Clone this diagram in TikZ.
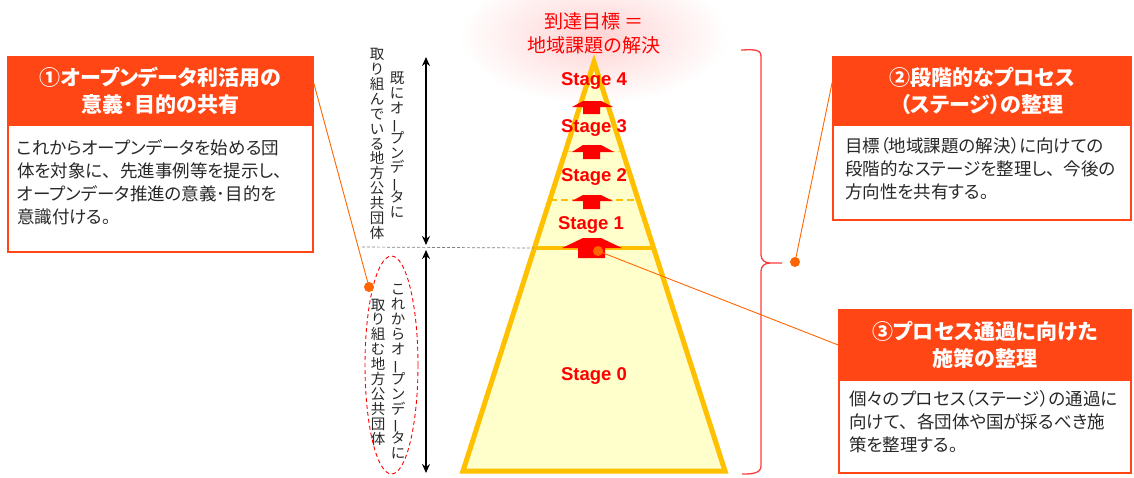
\documentclass[tikz,border=0pt]{standalone}
\usepackage{fontspec}
\usepackage{graphicx}
\setmainfont{Liberation Sans}
\newfontfamily\jp{Noto Sans CJK JP}
\newfontfamily\jpp{Noto Sans CJK JP}[RawFeature=+palt]
\usetikzlibrary{calc,arrows.meta}
\definecolor{hdr}{RGB}{255,70,20}
\definecolor{pyr}{RGB}{255,192,0}
\definecolor{pyrfill}{RGB}{255,255,204}
\definecolor{conn}{RGB}{255,102,0}
\definecolor{bracecol}{RGB}{255,60,60}
\definecolor{txt}{RGB}{40,40,40}
\definecolor{glow}{RGB}{255,210,210}
\definecolor{stagered}{RGB}{255,0,0}
\newcommand{\chouon}{\smash{\raisebox{-0.05em}{\rotatebox[origin=c]{90}{ー}}}}
\newcommand{\tten}{{\jp 、}}
\tikzset{
  hdrbox/.style={fill=hdr, draw=hdr, line width=1.5pt, text=white,
    font=\jpp\bfseries\fontsize{21}{27}\selectfont, align=center, inner sep=0pt},
  bodybox/.style={fill=white, draw=hdr, line width=1.5pt, inner sep=0pt},
  bodytext/.style={text=txt, font=\jpp\fontsize{17.5}{23}\selectfont, align=left,
    inner sep=0pt, anchor=north west},
  stagelbl/.style={text=stagered, font=\bfseries\fontsize{18.5}{20}\selectfont, inner sep=0pt},
  vcol/.style={text=txt, font=\jp\fontsize{14.5}{14.9}\selectfont, align=center, inner sep=0pt},
  dotnode/.style={circle, fill=conn, minimum size=10pt, inner sep=0pt},
  connline/.style={draw=conn, line width=0.9pt},
  dimarrow/.style={draw=black, line width=1.8pt,
    {Stealth[length=9pt,width=8pt]}-{Stealth[length=9pt,width=8pt]}},
  upblock/.style={fill=stagered, draw=none},
}
\begin{document}
\begin{tikzpicture}[x=1pt,y=-1pt]
\useasboundingbox (0,0) rectangle (1134,477);
\fill[white] (0,0) rectangle (1134,477);

% glow behind the goal text
\shade[inner color=glow, outer color=white] (594,36) ellipse [x radius=135, y radius=68];

% pyramid
\coordinate (P) at (594,62);
\coordinate (PL) at (463,471);
\coordinate (PR) at (725,471);
\fill[pyrfill] (P) -- (PL) -- (PR) -- cycle;
\coordinate (L0) at ($(P)!0.4548!(PL)$);
\coordinate (R0) at ($(P)!0.4548!(PR)$);
\coordinate (L1) at ($(P)!0.3374!(PL)$);
\coordinate (R1) at ($(P)!0.3374!(PR)$);
\coordinate (L2) at ($(P)!0.2176!(PL)$);
\coordinate (R2) at ($(P)!0.2176!(PR)$);
\draw[pyr!70, line width=0.8pt, dash pattern=on 10pt off 3pt] (L2) -- (R2);
\draw[pyr, line width=1.5pt, dash pattern=on 7pt off 4pt] (L1) -- (R1);
\draw[pyr, line width=4pt] (L0) -- (R0);
\draw[pyr, line width=5pt, line join=miter] (P) -- (PL) -- (PR) -- cycle;

% up arrows
\fill[upblock] (562,248) -- (583,238) -- (601,238) -- (622,248) -- (605,248) -- (605,258) -- (578,258) -- (578,248) -- cycle;
\fill[upblock] (572,201) -- (583,195) -- (601,195) -- (613,201) -- (600,201) -- (600,209) -- (583,209) -- (583,201) -- cycle;
\fill[upblock] (572,152) -- (583,145) -- (601,145) -- (614,152) -- (600,152) -- (600,159) -- (583,159) -- (583,152) -- cycle;
\fill[upblock] (572,107) -- (583,101) -- (601,101) -- (613,107) -- (600,107) -- (600,114) -- (583,114) -- (583,107) -- cycle;

% stage labels
\node[stagelbl] (s4) at (594,81) {Stage 4};
\node[stagelbl] (s3) at (594,128) {Stage 3};
\node[stagelbl] (s2) at (594,177) {Stage 2};
\node[stagelbl] (s1) at (591,225) {Stage 1};
\node[stagelbl] (s0) at (594,376) {Stage 0};

% goal text
\node[text=stagered, font=\jp\fontsize{19}{24}\selectfont, align=center, inner sep=0pt] (goal) at (594,33) {到達目標 ＝\\地域課題の解決};

% dashed separator and dimension arrows
\coordinate (g0) at (362,247);
\draw[gray, line width=0.7pt, dash pattern=on 3pt off 2pt] (g0) -- (L0);
\coordinate (a1t) at (426,57);
\coordinate (a1b) at (426,245);
\coordinate (a2t) at (426,250);
\coordinate (a2b) at (426,473);
\draw[dimarrow] (a1t) -- (a1b);
\draw[dimarrow] (a2t) -- (a2b);

% vertical texts
\node[vcol] (vA) at (397,145) {既\\に\\オ\\\chouon\\プ\\ン\\デ\\\chouon\\タ\\に};
\node[vcol] (vB) at (377,144) {取\\り\\組\\ん\\で\\い\\る\\地\\方\\公\\共\\団\\体};
\node[vcol] (vC) at (398,372) {こ\\れ\\か\\ら\\オ\\\chouon\\プ\\ン\\デ\\\chouon\\タ\\に};
\node[vcol] (vD) at (378,372) {取\\り\\組\\む\\地\\方\\公\\共\\団\\体};
\draw[red, line width=0.9pt, dash pattern=on 4pt off 3pt] (391.5,365) ellipse [x radius=26.5, y radius=109];

% brace
\draw[bracecol, line width=1.3pt] (741,50) to[out=0,in=90] (761,56) -- (761,255)
  .. controls (761,260) and (765,263) .. (770,263) -- (782,263);
\draw[bracecol, line width=1.3pt] (770,263) .. controls (765,263) and (761,266) .. (761,271)
  -- (761,466) to[out=-90,in=0] (742,474);

% box 1
\node[bodybox, minimum width=305pt, minimum height=127pt] (b1) at (160.5,188.5) {};
\node[hdrbox, minimum width=305pt, minimum height=68pt] (h1) at (160.5,91) {①オープンデータ利活用の\\意義･目的の共有};
\node[bodytext] (t1) at (17,139) {これからオープンデータを始める団\\体を対象に\tten 先進事例等を提示し\tten\\オープンデータ推進の意義･目的を\\意識付ける。};

% box 2
\node[bodybox, minimum width=298pt, minimum height=95pt] (b2) at (982,172.5) {};
\node[hdrbox, minimum width=298pt, minimum height=68pt] (h2) at (982,91) {②段階的なプロセス\\（ステージ）の整理};
\node[bodytext] (t2) at (845,137) {目標（地域課題の解決）に向けての\\段階的なステージを整理し\tten 今後の\\方向性を共有する。};

% box 3
\node[bodybox, minimum width=292pt, minimum height=93pt] (b3) at (985,426.5) {};
\node[hdrbox, minimum width=292pt, minimum height=70pt] (h3) at (985,345) {③プロセス通過に向けた\\施策の整理};
\node[bodytext] (t3) at (849,390) {個々のプロセス（ステージ）の通過に\\向けて\tten 各団体や国が採るべき施\\策を整理する。};

% connectors and dots
\coordinate (c1) at (369,287);
\coordinate (c2) at (795,262);
\coordinate (c3) at (598,251);
\draw[connline] (c1) -- (h1.east |- 0,83);
\draw[connline] (c2) -- (h2.west |- 0,82);
\draw[connline] (c3) -- (h3.west);
\node[dotnode] (d1) at (c1) {};
\node[dotnode] (d2) at (c2) {};
\node[dotnode] (d3) at (c3) {};
\end{tikzpicture}
\end{document}
